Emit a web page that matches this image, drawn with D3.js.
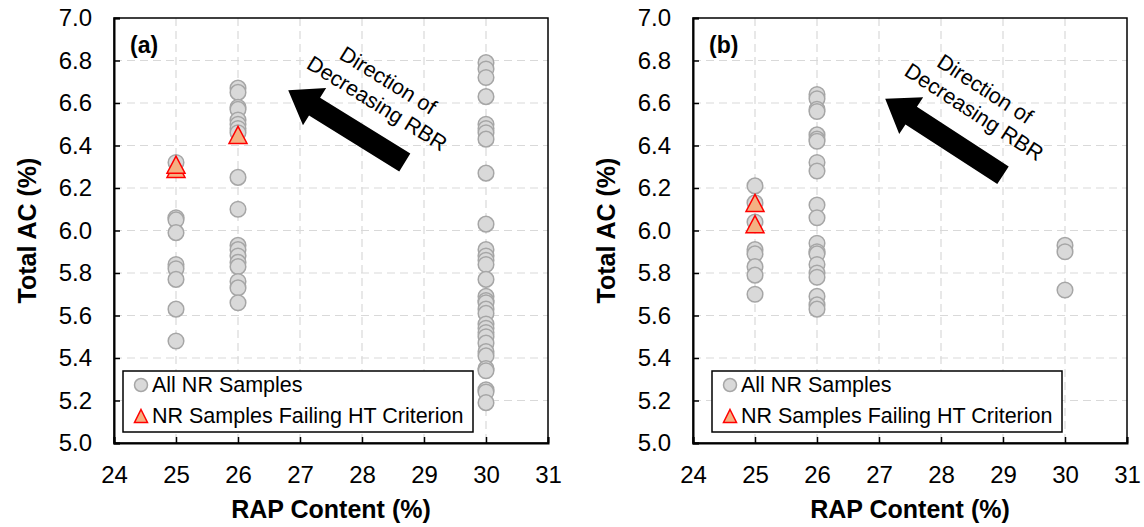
<!DOCTYPE html>
<html>
<head>
<meta charset="utf-8">
<script src="https://cdn.jsdelivr.net/npm/d3@7"></script>
<style>
  body { margin: 0; background: #fff; }
  svg text { font-family: "Liberation Sans", Arial, sans-serif; }
</style>
</head>
<body>
<div id="chart"></div>
<script>
(function () {

    // RAP contents on the x axis, tick labels
    const xTicks = [24, 25, 26, 27, 28, 29, 30, 31]
    const yTicks = [5.0, 5.2, 5.4, 5.6, 5.8, 6.0, 6.2, 6.4, 6.6, 6.8, 7.0]

    // panel (a): total AC (%) of all NR samples by RAP content
    const a_rap25 = [6.32, 6.06, 6.05, 5.99, 5.84, 5.82, 5.77, 5.63, 5.48]
    const a_rap26 = [6.67, 6.65, 6.58, 6.57, 6.52, 6.50, 6.48, 6.46, 6.25, 6.10, 5.93, 5.91, 5.88, 5.85, 5.83, 5.76, 5.73, 5.66]
    const a_rap30 = [6.79, 6.76, 6.72, 6.63, 6.50, 6.48, 6.46, 6.43, 6.27, 6.03, 5.91, 5.88, 5.86, 5.84, 5.77, 5.69, 5.67, 5.66,
        5.63, 5.61, 5.56, 5.54, 5.52, 5.50, 5.47, 5.43, 5.41, 5.35, 5.34, 5.25, 5.24, 5.19]
    // panel (a): samples failing HT criterion
    const a_failRap = [25, 25, 26]
    const a_failAC = [6.29, 6.31, 6.45]

    // panel (b)
    const b_rap25 = [6.21, 6.13, 6.04, 5.91, 5.89, 5.83, 5.79, 5.70]
    const b_rap26 = [6.64, 6.62, 6.57, 6.56, 6.45, 6.43, 6.42, 6.32, 6.28, 6.12, 6.06, 5.94, 5.90, 5.89, 5.84, 5.80, 5.78, 5.69, 5.65, 5.63]
    const b_rap30 = [5.93, 5.90, 5.72]
    const b_failRap = [25, 25]
    const b_failAC = [6.13, 6.03]

    const legendLabels = ["All NR Samples", "NR Samples Failing HT Criterion"]

    const toPoints = (rap, values) => values.map(v => ({ x: rap, y: v }))

    const panels = [
        {
            label: "(a)", left: 114,
            samples: [].concat(toPoints(25, a_rap25), toPoints(26, a_rap26), toPoints(30, a_rap30)),
            fails: a_failRap.map((r, i) => ({ x: r, y: a_failAC[i] })),
            arrow: { tip: [26.81, 6.66], tail: [28.69, 6.32] },
            legendLeft: 123
        },
        {
            label: "(b)", left: 693,
            samples: [].concat(toPoints(25, b_rap25), toPoints(26, b_rap26), toPoints(30, b_rap30)),
            fails: b_failRap.map((r, i) => ({ x: r, y: b_failAC[i] })),
            arrow: { tip: [27.10, 6.62], tail: [29.0, 6.26] },
            legendLeft: 712
        }
    ]

    const W = 1144, H = 527
    const plotW = 434, top = 18, bottom = 443

    const svg = d3.select("#chart").append("svg")
        .attr("width", W)
        .attr("height", H)

    const triPath = (w, h) => `M0,${-h / 2}L${w / 2},${h / 2}L${-w / 2},${h / 2}Z`

    function drawPanel(p) {
        const xScale = d3.scaleLinear().domain([24, 31]).range([p.left, p.left + plotW])
        const yScale = d3.scaleLinear().domain([5, 7]).range([bottom, top])
        const g = svg.append("g")

        // dashed grid
        g.append("g").selectAll("line")
            .data(xTicks.slice(1, -1))
            .enter().append("line")
            .attr("x1", d => xScale(d)).attr("x2", d => xScale(d))
            .attr("y1", top).attr("y2", bottom)
            .attr("stroke", "#d9d9d9").attr("stroke-width", 1.2)
            .attr("stroke-dasharray", "8,5")
        g.append("g").selectAll("line")
            .data(yTicks.slice(1, -1))
            .enter().append("line")
            .attr("x1", p.left).attr("x2", p.left + plotW)
            .attr("y1", d => yScale(d)).attr("y2", d => yScale(d))
            .attr("stroke", "#d9d9d9").attr("stroke-width", 1.2)
            .attr("stroke-dasharray", "8,5")

        // frame
        g.append("rect")
            .attr("x", p.left).attr("y", top)
            .attr("width", plotW).attr("height", bottom - top)
            .attr("fill", "none").attr("stroke", "#000").attr("stroke-width", 1.5)

        // axes with inward ticks
        const xAxis = g.append("g")
            .attr("transform", `translate(0,${bottom})`)
            .call(d3.axisBottom(xScale).tickValues(xTicks).tickSize(-6).tickPadding(23).tickFormat(d3.format("d")))
        const yAxis = g.append("g")
            .attr("transform", `translate(${p.left},0)`)
            .call(d3.axisLeft(yScale).tickValues(yTicks).tickSize(-6).tickPadding(22).tickFormat(d3.format(".1f")))
        for (const ax of [xAxis, yAxis]) {
            ax.select(".domain").attr("stroke", "#000").attr("stroke-width", 2)
            ax.selectAll(".tick line").attr("stroke", "#000").attr("stroke-width", 1.5)
            ax.selectAll(".tick text")
                .attr("fill", "#000")
                .style("font-size", "24px")
                .style("font-family", '"Liberation Sans", Arial, sans-serif')
        }

        // axis titles
        g.append("text")
            .attr("x", p.left + plotW / 2).attr("y", 518)
            .attr("text-anchor", "middle")
            .style("font-size", "25px").style("font-weight", "bold")
            .text("RAP Content (%)")
        g.append("text")
            .attr("transform", `translate(${p.left - 78},${(top + bottom) / 2}) rotate(-90)`)
            .attr("text-anchor", "middle")
            .style("font-size", "25px").style("font-weight", "bold")
            .text("Total AC (%)")

        // panel label
        g.append("text")
            .attr("x", p.left + 16).attr("y", 53)
            .style("font-size", "23px").style("font-weight", "bold")
            .text(p.label)

        // all samples
        g.append("g").selectAll("circle")
            .data(p.samples)
            .enter().append("circle")
            .attr("cx", d => xScale(d.x))
            .attr("cy", d => yScale(d.y))
            .attr("r", 7.8)
            .attr("fill", "#d9d9d9")
            .attr("stroke", "#a6a6a6")
            .attr("stroke-width", 1.5)

        // failing samples
        g.append("g").selectAll("path")
            .data(p.fails)
            .enter().append("path")
            .attr("transform", d => `translate(${xScale(d.x)},${yScale(d.y)})`)
            .attr("d", triPath(18, 17))
            .attr("fill", "#f4b183")
            .attr("stroke", "#ff0000")
            .attr("stroke-width", 1.5)

        // arrow annotation
        const [tx, ty] = [xScale(p.arrow.tip[0]), yScale(p.arrow.tip[1])]
        const [sx, sy] = [xScale(p.arrow.tail[0]), yScale(p.arrow.tail[1])]
        const len = Math.hypot(tx - sx, ty - sy)
        const ang = Math.atan2(ty - sy, tx - sx) * 180 / Math.PI
        const headL = 31, headW = 22, shaftW = 10.5
        g.append("path")
            .attr("transform", `translate(${sx},${sy}) rotate(${ang})`)
            .attr("d", `M0,${-shaftW}L${len - headL},${-shaftW}L${len - headL},${-headW}L${len},0` +
                `L${len - headL},${headW}L${len - headL},${shaftW}L0,${shaftW}Z`)
            .attr("fill", "#000")

        const rot = ang + 180
        g.append("text")
            .attr("transform", `translate(${tx + 100},${ty - 10}) rotate(${rot})`)
            .attr("text-anchor", "middle").attr("dy", "0.35em")
            .style("font-size", "21.5px")
            .text("Direction of")
        g.append("text")
            .attr("transform", `translate(${tx + 89},${ty + 13}) rotate(${rot})`)
            .attr("text-anchor", "middle").attr("dy", "0.35em")
            .style("font-size", "21.5px")
            .text("Decreasing RBR")

        // legend
        const lg = g.append("g").attr("transform", `translate(${p.legendLeft},371)`)
        lg.append("rect")
            .attr("width", 350).attr("height", 61)
            .attr("fill", "#fff").attr("stroke", "#000").attr("stroke-width", 1.5)
        lg.append("circle")
            .attr("cx", 18).attr("cy", 14).attr("r", 6.5)
            .attr("fill", "#d9d9d9").attr("stroke", "#a6a6a6").attr("stroke-width", 1.5)
        lg.append("path")
            .attr("transform", "translate(18,45)")
            .attr("d", triPath(13, 13))
            .attr("fill", "#f4b183").attr("stroke", "#ff0000").attr("stroke-width", 1.5)
        lg.selectAll("text.lbl")
            .data(legendLabels)
            .enter().append("text")
            .attr("class", "lbl")
            .attr("x", 29)
            .attr("y", (d, i) => 21 + i * 31)
            .style("font-size", "21.5px")
            .text(d => d)
    }

    panels.forEach(drawPanel)
})()
</script>
</body>
</html>
